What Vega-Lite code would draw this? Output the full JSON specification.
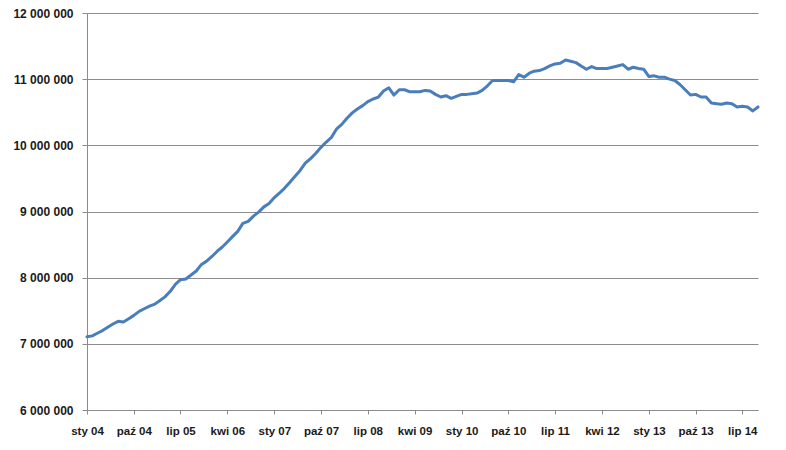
{
  "$schema": "https://vega.github.io/schema/vega-lite/v6.json",
  "width": 671,
  "height": 397,
  "autosize": "none",
  "padding": {"left": 87, "top": 13, "right": 28, "bottom": 40},
  "background": "#ffffff",
  "config": {
    "view": {"stroke": null},
    "locale": {"number": {"decimal": ",", "thousands": " ", "grouping": [3], "currency": ["", " zł"]}},
    "axis": {"labelFont": "Liberation Sans", "labelFontWeight": "bold", "labelColor": "#1a1a1a", "domainColor": "#8c8c8c", "tickColor": "#8c8c8c", "gridColor": "#8c8c8c", "title": null}
  },
  "data": {"values": [
    {"date": "2004-01-01", "value": 7107000}, {"date": "2004-02-01", "value": 7120000}, {"date": "2004-03-01", "value": 7160000}, {"date": "2004-04-01", "value": 7200000},
    {"date": "2004-05-01", "value": 7250000}, {"date": "2004-06-01", "value": 7300000}, {"date": "2004-07-01", "value": 7340000}, {"date": "2004-08-01", "value": 7330000},
    {"date": "2004-09-01", "value": 7380000}, {"date": "2004-10-01", "value": 7430000}, {"date": "2004-11-01", "value": 7490000}, {"date": "2004-12-01", "value": 7530000},
    {"date": "2005-01-01", "value": 7570000}, {"date": "2005-02-01", "value": 7600000}, {"date": "2005-03-01", "value": 7650000}, {"date": "2005-04-01", "value": 7710000},
    {"date": "2005-05-01", "value": 7790000}, {"date": "2005-06-01", "value": 7900000}, {"date": "2005-07-01", "value": 7970000}, {"date": "2005-08-01", "value": 7980000},
    {"date": "2005-09-01", "value": 8040000}, {"date": "2005-10-01", "value": 8100000}, {"date": "2005-11-01", "value": 8200000}, {"date": "2005-12-01", "value": 8250000},
    {"date": "2006-01-01", "value": 8320000}, {"date": "2006-02-01", "value": 8400000}, {"date": "2006-03-01", "value": 8460000}, {"date": "2006-04-01", "value": 8540000},
    {"date": "2006-05-01", "value": 8620000}, {"date": "2006-06-01", "value": 8700000}, {"date": "2006-07-01", "value": 8820000}, {"date": "2006-08-01", "value": 8850000},
    {"date": "2006-09-01", "value": 8930000}, {"date": "2006-10-01", "value": 8990000}, {"date": "2006-11-01", "value": 9070000}, {"date": "2006-12-01", "value": 9120000},
    {"date": "2007-01-01", "value": 9210000}, {"date": "2007-02-01", "value": 9280000}, {"date": "2007-03-01", "value": 9350000}, {"date": "2007-04-01", "value": 9440000},
    {"date": "2007-05-01", "value": 9530000}, {"date": "2007-06-01", "value": 9620000}, {"date": "2007-07-01", "value": 9730000}, {"date": "2007-08-01", "value": 9800000},
    {"date": "2007-09-01", "value": 9880000}, {"date": "2007-10-01", "value": 9970000}, {"date": "2007-11-01", "value": 10050000}, {"date": "2007-12-01", "value": 10120000},
    {"date": "2008-01-01", "value": 10250000}, {"date": "2008-02-01", "value": 10320000}, {"date": "2008-03-01", "value": 10410000}, {"date": "2008-04-01", "value": 10490000},
    {"date": "2008-05-01", "value": 10550000}, {"date": "2008-06-01", "value": 10600000}, {"date": "2008-07-01", "value": 10660000}, {"date": "2008-08-01", "value": 10700000},
    {"date": "2008-09-01", "value": 10730000}, {"date": "2008-10-01", "value": 10820000}, {"date": "2008-11-01", "value": 10870000}, {"date": "2008-12-01", "value": 10760000},
    {"date": "2009-01-01", "value": 10840000}, {"date": "2009-02-01", "value": 10840000}, {"date": "2009-03-01", "value": 10810000}, {"date": "2009-04-01", "value": 10810000},
    {"date": "2009-05-01", "value": 10810000}, {"date": "2009-06-01", "value": 10830000}, {"date": "2009-07-01", "value": 10820000}, {"date": "2009-08-01", "value": 10770000},
    {"date": "2009-09-01", "value": 10730000}, {"date": "2009-10-01", "value": 10750000}, {"date": "2009-11-01", "value": 10710000}, {"date": "2009-12-01", "value": 10740000},
    {"date": "2010-01-01", "value": 10770000}, {"date": "2010-02-01", "value": 10770000}, {"date": "2010-03-01", "value": 10780000}, {"date": "2010-04-01", "value": 10790000},
    {"date": "2010-05-01", "value": 10830000}, {"date": "2010-06-01", "value": 10900000}, {"date": "2010-07-01", "value": 10980000}, {"date": "2010-08-01", "value": 10980000},
    {"date": "2010-09-01", "value": 10980000}, {"date": "2010-10-01", "value": 10980000}, {"date": "2010-11-01", "value": 10960000}, {"date": "2010-12-01", "value": 11070000},
    {"date": "2011-01-01", "value": 11030000}, {"date": "2011-02-01", "value": 11090000}, {"date": "2011-03-01", "value": 11120000}, {"date": "2011-04-01", "value": 11130000},
    {"date": "2011-05-01", "value": 11160000}, {"date": "2011-06-01", "value": 11200000}, {"date": "2011-07-01", "value": 11230000}, {"date": "2011-08-01", "value": 11240000},
    {"date": "2011-09-01", "value": 11290000}, {"date": "2011-10-01", "value": 11270000}, {"date": "2011-11-01", "value": 11250000}, {"date": "2011-12-01", "value": 11200000},
    {"date": "2012-01-01", "value": 11150000}, {"date": "2012-02-01", "value": 11190000}, {"date": "2012-03-01", "value": 11160000}, {"date": "2012-04-01", "value": 11160000},
    {"date": "2012-05-01", "value": 11160000}, {"date": "2012-06-01", "value": 11180000}, {"date": "2012-07-01", "value": 11200000}, {"date": "2012-08-01", "value": 11220000},
    {"date": "2012-09-01", "value": 11150000}, {"date": "2012-10-01", "value": 11180000}, {"date": "2012-11-01", "value": 11160000}, {"date": "2012-12-01", "value": 11150000},
    {"date": "2013-01-01", "value": 11040000}, {"date": "2013-02-01", "value": 11050000}, {"date": "2013-03-01", "value": 11030000}, {"date": "2013-04-01", "value": 11030000},
    {"date": "2013-05-01", "value": 11000000}, {"date": "2013-06-01", "value": 10980000}, {"date": "2013-07-01", "value": 10920000}, {"date": "2013-08-01", "value": 10840000},
    {"date": "2013-09-01", "value": 10760000}, {"date": "2013-10-01", "value": 10770000}, {"date": "2013-11-01", "value": 10730000}, {"date": "2013-12-01", "value": 10730000},
    {"date": "2014-01-01", "value": 10640000}, {"date": "2014-02-01", "value": 10630000}, {"date": "2014-03-01", "value": 10620000}, {"date": "2014-04-01", "value": 10640000},
    {"date": "2014-05-01", "value": 10630000}, {"date": "2014-06-01", "value": 10580000}, {"date": "2014-07-01", "value": 10590000}, {"date": "2014-08-01", "value": 10580000},
    {"date": "2014-09-01", "value": 10520000}, {"date": "2014-10-01", "value": 10580000}
  ]},
  "mark": {"type": "line", "color": "#4a7ebb", "strokeWidth": 3, "strokeJoin": "round", "strokeCap": "round"},
  "encoding": {
    "x": {
      "field": "date", "type": "temporal",
      "scale": {"type": "utc", "nice": false, "domain": [{"year": 2004, "month": 1, "date": 1, "utc": true}, {"year": 2014, "month": 10, "date": 1, "utc": true}]},
      "axis": {
        "values": [
          {"year": 2004, "month": 1, "date": 1, "utc": true}, {"year": 2004, "month": 10, "date": 1, "utc": true},
          {"year": 2005, "month": 7, "date": 1, "utc": true}, {"year": 2006, "month": 4, "date": 1, "utc": true},
          {"year": 2007, "month": 1, "date": 1, "utc": true}, {"year": 2007, "month": 10, "date": 1, "utc": true},
          {"year": 2008, "month": 7, "date": 1, "utc": true}, {"year": 2009, "month": 4, "date": 1, "utc": true},
          {"year": 2010, "month": 1, "date": 1, "utc": true}, {"year": 2010, "month": 10, "date": 1, "utc": true},
          {"year": 2011, "month": 7, "date": 1, "utc": true}, {"year": 2012, "month": 4, "date": 1, "utc": true},
          {"year": 2013, "month": 1, "date": 1, "utc": true}, {"year": 2013, "month": 10, "date": 1, "utc": true},
          {"year": 2014, "month": 7, "date": 1, "utc": true}
        ],
        "labelExpr": "['sty','lut','mar','kwi','maj','cze','lip','sie','wrz','paź','lis','gru'][utcmonth(datum.value)] + ' ' + utcFormat(datum.value, '%y')",
        "grid": false, "tickSize": 4, "labelPadding": 11, "labelFontSize": 11.5, "labelFlush": false, "labelOverlap": false
      }
    },
    "y": {
      "field": "value", "type": "quantitative",
      "scale": {"domain": [6000000, 12000000], "nice": false, "zero": false},
      "axis": {
        "values": [6000000, 7000000, 8000000, 9000000, 10000000, 11000000, 12000000],
        "format": ",d", "grid": true, "tickSize": 5, "labelPadding": 9, "labelFontSize": 12
      }
    }
  }
}
